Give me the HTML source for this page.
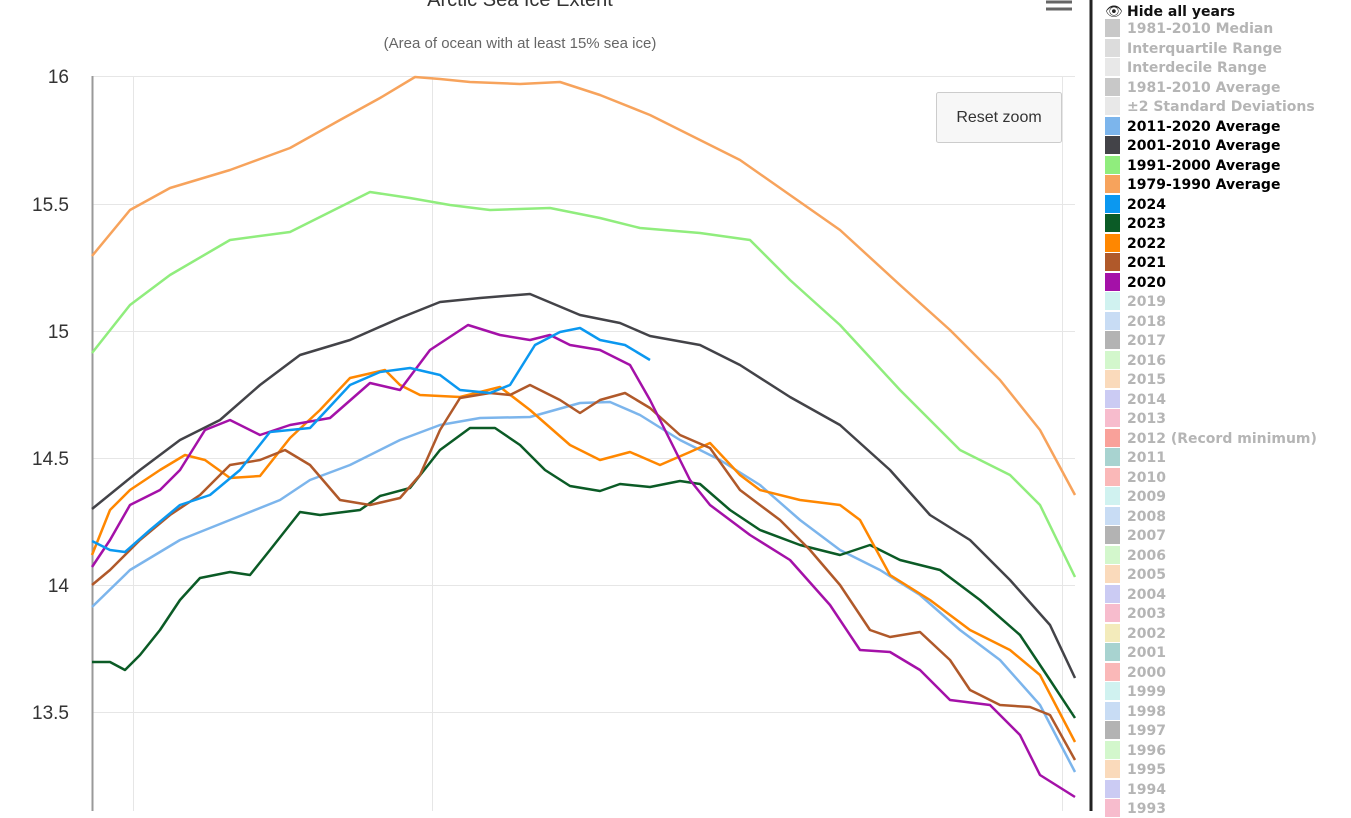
<!DOCTYPE html>
<html><head><meta charset="utf-8"><style>
body{margin:0;width:1351px;height:811px;overflow:hidden;background:#fff;font-family:"Liberation Sans","DejaVu Sans",sans-serif;position:relative}
.lg{position:absolute;left:1105px;height:18px;font-size:14px;font-weight:bold;line-height:18px;white-space:nowrap;font-family:"DejaVu Sans",sans-serif}
.lg i{position:absolute;left:0;top:0;width:15px;height:18px}
.lg span{position:absolute;left:22px;top:1px}
.dim span{color:#b5b5b5}
</style></head><body>
<svg width="1351" height="811" style="position:absolute;left:0;top:0">
<text x="520" y="6" text-anchor="middle" font-size="20" fill="#333" font-family="Liberation Sans">Arctic Sea Ice Extent</text>
<text x="520" y="48" text-anchor="middle" font-size="15" fill="#666" font-family="Liberation Sans">(Area of ocean with at least 15% sea ice)</text>
<g stroke="#e6e6e6" stroke-width="1">
<line x1="92" y1="76.5" x2="1075" y2="76.5"/><line x1="92" y1="204.5" x2="1075" y2="204.5"/><line x1="92" y1="331.5" x2="1075" y2="331.5"/><line x1="92" y1="458.5" x2="1075" y2="458.5"/><line x1="92" y1="585.5" x2="1075" y2="585.5"/><line x1="92" y1="712.5" x2="1075" y2="712.5"/>
<line x1="133.5" y1="76" x2="133.5" y2="811"/><line x1="432.5" y1="76" x2="432.5" y2="811"/><line x1="1062.5" y1="76" x2="1062.5" y2="811"/>
</g>
<line x1="92.5" y1="76" x2="92.5" y2="811" stroke="#999" stroke-width="2"/>
<g font-size="19" fill="#333" text-anchor="end" font-family="Liberation Sans">
<text x="69" y="83">16</text><text x="69" y="211">15.5</text><text x="69" y="338">15</text><text x="69" y="465">14.5</text><text x="69" y="592">14</text><text x="69" y="719">13.5</text>
</g>
<g fill="none" stroke-width="2.5" stroke-linejoin="round">
<polyline stroke="#f7a35c" points="92,256 130,210 170,188 230,170 290,148 340,120 380,98 415,77 440,79 470,82 520,84 560,82 600,95 650,115 700,140 740,160 790,195 840,230 900,285 950,330 1000,380 1040,430 1075,495"/>
<polyline stroke="#90ed7d" points="92,353 130,305 170,275 230,240 290,232 330,212 370,192 410,198 450,205 490,210 550,208 600,218 640,228 700,233 750,240 790,280 840,325 900,390 960,450 1010,475 1040,505 1075,577"/>
<polyline stroke="#434348" points="92,509 140,470 180,440 220,420 260,385 300,355 350,340 400,318 440,302 480,298 530,294 580,315 620,323 650,336 700,345 740,365 790,397 840,425 890,470 930,515 970,540 1010,580 1050,625 1075,678"/>
<polyline stroke="#7cb5ec" points="92,607 130,570 180,540 230,520 280,500 310,480 350,465 400,440 440,425 480,418 530,417 580,403 610,402 640,415 680,440 720,460 760,485 800,520 840,550 880,570 920,595 960,630 1000,660 1040,705 1075,772"/>
<polyline stroke="#0b5b26" points="92,662 110,662 125,670 140,655 160,630 180,600 200,578 230,572 250,575 270,550 300,512 320,515 360,510 380,496 410,488 440,450 470,428 495,428 520,445 545,470 570,486 600,491 620,484 650,487 680,481 700,484 730,510 760,530 800,545 840,555 870,545 900,560 940,570 980,600 1020,635 1050,680 1075,718"/>
<polyline stroke="#ff8700" points="92,555 110,510 130,490 160,470 185,455 205,460 230,478 260,476 290,438 320,410 350,378 385,370 400,385 420,395 460,397 500,387 530,410 570,445 600,460 630,452 660,465 690,452 710,443 740,475 760,490 800,500 840,505 860,520 890,575 930,600 970,630 1010,650 1040,675 1075,742"/>
<polyline stroke="#b0592a" points="92,585 110,570 140,540 170,515 200,495 230,465 260,460 285,450 310,465 340,500 370,505 400,498 420,475 440,430 460,398 490,393 510,395 530,385 560,400 580,413 600,400 625,393 650,408 680,435 710,448 740,490 780,520 810,550 840,585 870,630 890,637 920,632 950,660 970,690 1000,705 1030,707 1050,715 1075,760"/>
<polyline stroke="#a411a8" points="92,567 110,540 130,505 160,490 180,470 205,430 230,420 260,435 290,425 330,418 370,383 400,390 430,350 468,325 500,335 530,340 550,335 570,345 600,350 630,365 650,400 670,440 690,480 710,505 750,535 790,560 830,605 860,650 890,652 920,670 950,700 990,705 1020,735 1040,775 1075,797"/>
<polyline stroke="#0b98f0" points="92,541 110,550 125,552 150,530 180,505 210,495 240,470 270,432 310,428 350,385 380,372 410,368 440,375 460,390 490,393 510,385 535,345 560,332 580,328 600,340 625,345 650,360"/>
</g>
<rect x="936.5" y="92.5" width="125" height="50" rx="2" fill="#f7f7f7" stroke="#ccc"/>
<text x="999" y="122" text-anchor="middle" font-size="16" fill="#333" font-family="Liberation Sans">Reset zoom</text>
<g stroke="#666" stroke-width="3"><line x1="1046" y1="2" x2="1072" y2="2"/><line x1="1046" y1="9" x2="1072" y2="9"/></g>
<line x1="1091" y1="0" x2="1091" y2="811" stroke="#222" stroke-width="3"/>
<text x="1105" y="16" font-size="14" fill="#222">👁</text>
</svg>
<div class="lg" style="top:2px"><span style="color:#111">Hide all years</span></div>
<div class="lg dim" style="top:19px"><i style="background:#c8c8c8"></i><span>1981-2010 Median</span></div>
<div class="lg dim" style="top:39px"><i style="background:#dcdcdc"></i><span>Interquartile Range</span></div>
<div class="lg dim" style="top:58px"><i style="background:#e8e8e8"></i><span>Interdecile Range</span></div>
<div class="lg dim" style="top:78px"><i style="background:#c8c8c8"></i><span>1981-2010 Average</span></div>
<div class="lg dim" style="top:97px"><i style="background:#e8e8e8"></i><span>±2 Standard Deviations</span></div>
<div class="lg" style="top:117px"><i style="background:#7cb5ec"></i><span>2011-2020 Average</span></div>
<div class="lg" style="top:136px"><i style="background:#434348"></i><span>2001-2010 Average</span></div>
<div class="lg" style="top:156px"><i style="background:#90ed7d"></i><span>1991-2000 Average</span></div>
<div class="lg" style="top:175px"><i style="background:#f7a35c"></i><span>1979-1990 Average</span></div>
<div class="lg" style="top:195px"><i style="background:#0b98f0"></i><span>2024</span></div>
<div class="lg" style="top:214px"><i style="background:#0b5b26"></i><span>2023</span></div>
<div class="lg" style="top:234px"><i style="background:#ff8700"></i><span>2022</span></div>
<div class="lg" style="top:253px"><i style="background:#b0592a"></i><span>2021</span></div>
<div class="lg" style="top:273px"><i style="background:#a411a8"></i><span>2020</span></div>
<div class="lg dim" style="top:292px"><i style="background:#d0f2f0"></i><span>2019</span></div>
<div class="lg dim" style="top:312px"><i style="background:#c8dcf4"></i><span>2018</span></div>
<div class="lg dim" style="top:331px"><i style="background:#b3b3b3"></i><span>2017</span></div>
<div class="lg dim" style="top:351px"><i style="background:#d3f7cc"></i><span>2016</span></div>
<div class="lg dim" style="top:370px"><i style="background:#fadabb"></i><span>2015</span></div>
<div class="lg dim" style="top:390px"><i style="background:#cbcbf3"></i><span>2014</span></div>
<div class="lg dim" style="top:409px"><i style="background:#f7bccd"></i><span>2013</span></div>
<div class="lg dim" style="top:429px"><i style="background:#f9a19a"></i><span>2012 (Record minimum)</span></div>
<div class="lg dim" style="top:448px"><i style="background:#a8d3d0"></i><span>2011</span></div>
<div class="lg dim" style="top:468px"><i style="background:#fab8b8"></i><span>2010</span></div>
<div class="lg dim" style="top:487px"><i style="background:#d0f2f0"></i><span>2009</span></div>
<div class="lg dim" style="top:507px"><i style="background:#c8dcf4"></i><span>2008</span></div>
<div class="lg dim" style="top:526px"><i style="background:#b3b3b3"></i><span>2007</span></div>
<div class="lg dim" style="top:546px"><i style="background:#d3f7cc"></i><span>2006</span></div>
<div class="lg dim" style="top:565px"><i style="background:#fadabb"></i><span>2005</span></div>
<div class="lg dim" style="top:585px"><i style="background:#cbcbf3"></i><span>2004</span></div>
<div class="lg dim" style="top:604px"><i style="background:#f7bccd"></i><span>2003</span></div>
<div class="lg dim" style="top:624px"><i style="background:#f3ebbb"></i><span>2002</span></div>
<div class="lg dim" style="top:643px"><i style="background:#a8d3d0"></i><span>2001</span></div>
<div class="lg dim" style="top:663px"><i style="background:#fab8b8"></i><span>2000</span></div>
<div class="lg dim" style="top:682px"><i style="background:#d0f2f0"></i><span>1999</span></div>
<div class="lg dim" style="top:702px"><i style="background:#c8dcf4"></i><span>1998</span></div>
<div class="lg dim" style="top:721px"><i style="background:#b3b3b3"></i><span>1997</span></div>
<div class="lg dim" style="top:741px"><i style="background:#d3f7cc"></i><span>1996</span></div>
<div class="lg dim" style="top:760px"><i style="background:#fadabb"></i><span>1995</span></div>
<div class="lg dim" style="top:780px"><i style="background:#cbcbf3"></i><span>1994</span></div>
<div class="lg dim" style="top:799px"><i style="background:#f7bccd"></i><span>1993</span></div>
</body></html>
